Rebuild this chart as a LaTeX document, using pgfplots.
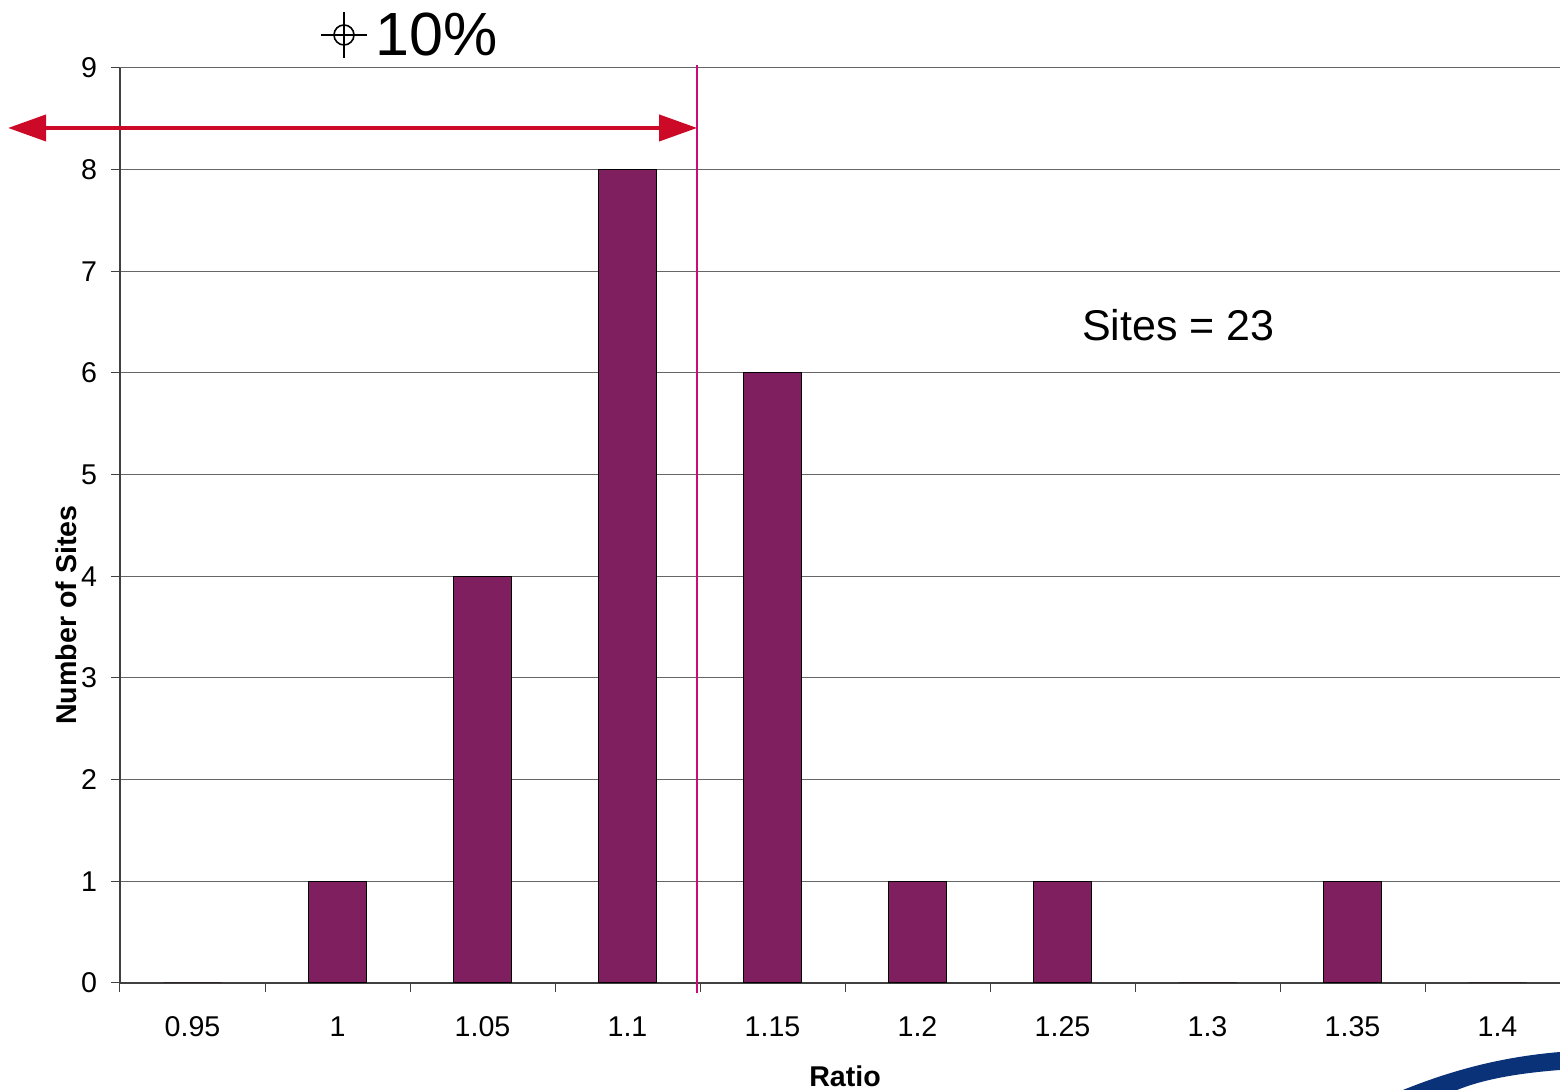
\documentclass[border=0pt]{standalone}
\usepackage{fontspec}
\setmainfont{Liberation Sans}
\usepackage{pgfplots}
\pgfplotsset{compat=1.18}
\usetikzlibrary{arrows.meta}
\definecolor{barplum}{HTML}{7F1F5F}
\definecolor{arrowred}{HTML}{CC0A28}
\definecolor{limitpink}{HTML}{CC0A78}
\definecolor{logoblue}{HTML}{0A3278}

\begin{document}
\begin{tikzpicture}
\useasboundingbox (0,0) rectangle (780pt,545pt);
\clip (0,0) rectangle (780pt,545pt);
\begin{axis}[
  at={(60pt,53.5pt)}, anchor=south west,
  width=725pt, height=457.5pt, scale only axis,
  xmin=-0.5, xmax=9.5, ymin=0, ymax=9,
  axis lines*=left,
  axis line style={black!75, line width=0.6pt},
  xtick={0,...,9},
  xticklabels={0.95,1,1.05,1.1,1.15,1.2,1.25,1.3,1.35,1.4},
  major x tick style={draw=none},
  minor xtick={-0.5,0.5,...,8.5},
  ytick={0,...,9},
  tick align=outside,
  major tick length=4.5pt, minor tick length=4.5pt,
  tick style={black!75, line width=0.5pt},
  ymajorgrids,
  grid style={black!60, line width=0.5pt},
  ticklabel style={font=\fontsize{14.3}{16}\selectfont},
  /pgf/number format/assume math mode=true,
  xticklabel style={anchor=center, yshift=-17.5pt},
  yticklabel style={anchor=east, xshift=-3.5pt},
  xlabel={Ratio},
  xlabel style={font=\bfseries\fontsize{14.3}{17}\selectfont,
    at={(rel axis cs:0.5,0)}, anchor=center, yshift=-46.5pt},
  ylabel={Number of Sites},
  ylabel style={font=\bfseries\fontsize{14.3}{17}\selectfont,
    at={(rel axis cs:-0.0372,0.402)}, anchor=center},
  clip=false,
]
% site counts per ratio bin
\addplot[ybar, bar width=0.4, fill=barplum, draw=black, line width=0.5pt]
  coordinates {(0,0) (1,1) (2,4) (3,8) (4,6) (5,1) (6,1) (7,0) (8,1) (9,0)};

% limit line and range arrow
\draw[limitpink, line width=1pt] (axis cs:3.48,-0.1) -- (axis cs:3.48,9.03);
\draw[arrowred, line width=2pt,
  {Triangle[length=19pt,width=13pt]}-{Triangle[length=19pt,width=13pt]}]
  (axis cs:-1.272,8.41) -- (axis cs:3.48,8.41);

\node[font=\fontsize{21.5}{26}\selectfont] at (axis cs:6.80,6.47) {Sites = 23};
\end{axis}

% heading with target symbol
\draw[line width=0.8pt] (172pt,527.5pt) circle (5pt);
\draw[line width=0.8pt] (160.5pt,527.5pt) -- (183.5pt,527.5pt)
  (172pt,516pt) -- (172pt,539pt);
\node[font=\fontsize{30.5}{36}\selectfont, inner sep=0pt] at (218.5pt,527.5pt) {10\%};

% corner logo swoosh
\fill[logoblue] (701.5pt,0pt) .. controls (725pt,9.5pt) and (750pt,16.5pt) .. (780pt,19pt)
  -- (780pt,10pt) .. controls (760pt,8.5pt) and (742pt,5.5pt) .. (728.5pt,0pt) -- cycle;
\end{tikzpicture}
\end{document}
